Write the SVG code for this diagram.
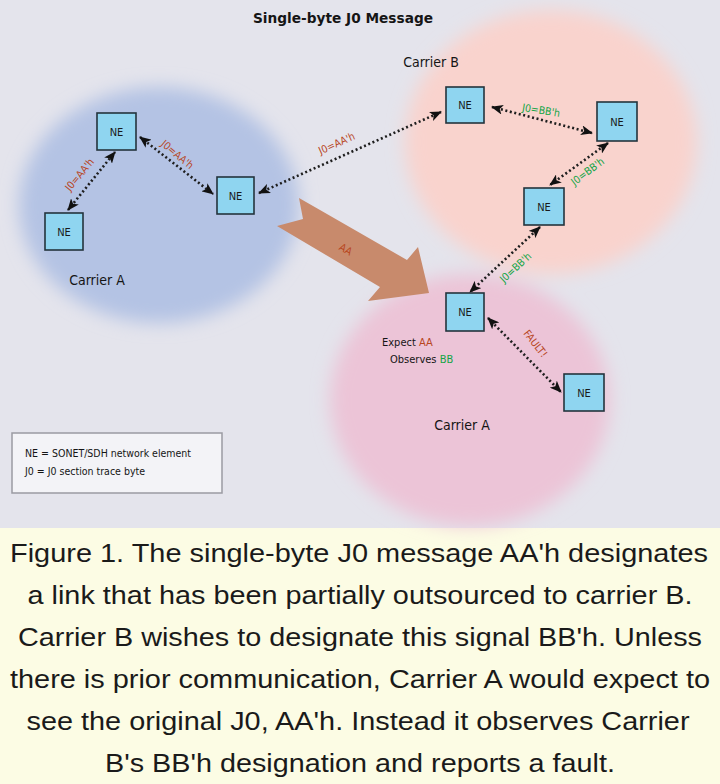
<svg xmlns="http://www.w3.org/2000/svg" width="720" height="784" viewBox="0 0 720 784">
<defs>
<style>
.ne rect{fill:#8fd5f0;stroke:#24343c;stroke-width:1.6}
.ne text{font-family:"DejaVu Sans Condensed","Liberation Sans",sans-serif;font-size:11px;fill:#1a1a1a;text-anchor:middle}
.lnk{fill:none;stroke:#1e1e1e;stroke-width:2.6;stroke-dasharray:2 2.6;marker-start:url(#ah);marker-end:url(#ah)}
.lbl{font-family:"DejaVu Sans Condensed","Liberation Sans",sans-serif;font-size:10.5px;text-anchor:middle}
.red{fill:#b8461e}
.grn{fill:#13a546}
.dk{font-family:"DejaVu Sans Condensed","Liberation Sans",sans-serif;fill:#151515}
.cap{font-family:"Liberation Sans Narrow","Liberation Sans",Arial,sans-serif;font-size:26px;fill:#1a1a1a;text-anchor:middle}
</style>
<marker id="ah" viewBox="0 0 12 10" refX="11" refY="5" markerWidth="12" markerHeight="10" markerUnits="userSpaceOnUse" orient="auto-start-reverse">
<path d="M0,0 L12,5 L0,10 L3,5 z" fill="#111"/>
</marker>
<filter id="blur" x="-20%" y="-20%" width="140%" height="140%">
<feGaussianBlur stdDeviation="9"/>
</filter>
</defs>

<rect x="0" y="0" width="720" height="528" fill="#e4e4ec"/>
<rect x="0" y="528" width="720" height="256" fill="#fcfce4"/>

<g id="regions" filter="url(#blur)">
<ellipse cx="159" cy="205" rx="140" ry="118" fill="#b4c3e4"/>
<ellipse cx="551" cy="142" rx="146" ry="132" fill="#f9d3cd"/>
<ellipse cx="470" cy="400" rx="140" ry="126" fill="#ecc4d7"/>
</g>

<text x="343" y="23" class="dk" font-size="14" font-weight="bold" text-anchor="middle" textLength="180" lengthAdjust="spacingAndGlyphs">Single-byte J0 Message</text>

<g id="big-arrow">
<path d="M299,198 L303,219 L277,226 L380,287 L368,301 L429,293 L418,247 L407,260 L320,210 Z" fill="#c88a6c"/>
<text x="346" y="253" class="lbl red" font-size="11" transform="rotate(30 346 249)">AA</text>
</g>

<g id="connectors">
<path class="lnk" d="M68,210 L115,152"/>
<path class="lnk" d="M140,137 L213,194"/>
<path class="lnk" d="M259,193 L441,112"/>
<path class="lnk" d="M492,107 L592,133"/>
<path class="lnk" d="M608,143 L550,185"/>
<path class="lnk" d="M540,227 L470,292"/>
<path class="lnk" d="M488,318 L561,392"/>
<text class="lbl red" x="80" y="178" transform="rotate(-50 80 175)">J0=AA'h</text>
<text class="lbl red" x="177" y="158" transform="rotate(40 177 155)">J0=AA'h</text>
<text class="lbl red" x="337" y="147" transform="rotate(-24 337 144)">J0=AA'h</text>
<text class="lbl grn" x="541" y="114" transform="rotate(9 541 111)">J0=BB'h</text>
<text class="lbl grn" x="588" y="175" transform="rotate(-37 588 172)">J0=BB'h</text>
<text class="lbl grn" x="516" y="271" transform="rotate(-43 516 268)">J0=BB'h</text>
<text class="lbl red" x="535" y="347" transform="rotate(52 535 344)">FAULT!</text>
</g>

<g id="ne1" class="ne"><rect x="97" y="113" width="39" height="37"/><text x="116.5" y="136">NE</text></g>
<g id="ne2" class="ne"><rect x="45" y="213" width="38" height="37"/><text x="64" y="236">NE</text></g>
<g id="ne3" class="ne"><rect x="217" y="177" width="37" height="37"/><text x="235.5" y="200">NE</text></g>
<g id="ne4" class="ne"><rect x="446" y="87" width="38" height="36"/><text x="465" y="109">NE</text></g>
<g id="ne5" class="ne"><rect x="597" y="102" width="40" height="39"/><text x="617" y="126">NE</text></g>
<g id="ne6" class="ne"><rect x="524" y="188" width="40" height="37"/><text x="544" y="211">NE</text></g>
<g id="ne7" class="ne"><rect x="446" y="293" width="38" height="38"/><text x="465" y="316">NE</text></g>
<g id="ne8" class="ne"><rect x="564" y="374" width="40" height="37"/><text x="584" y="397">NE</text></g>

<g id="region-labels">
<text x="97" y="285" class="dk" font-size="14" text-anchor="middle">Carrier A</text>
<text x="431" y="67" class="dk" font-size="14" text-anchor="middle">Carrier B</text>
<text x="462" y="430" class="dk" font-size="14" text-anchor="middle">Carrier A</text>
<text x="382" y="346" class="dk" font-size="11">Expect <tspan fill="#b8461e">AA</tspan></text>
<text x="390" y="363" class="dk" font-size="11">Observes <tspan fill="#13a546">BB</tspan></text>
</g>

<g id="legend">
<rect x="12" y="433" width="210" height="60" fill="#f3f3f7" stroke="#9a9aa2" stroke-width="1.5"/>
<text x="25" y="457" class="dk" font-size="10.5">NE = SONET/SDH network element</text>
<text x="25" y="475" class="dk" font-size="10.5">J0 = J0 section trace byte</text>
</g>

<g id="caption">
<text class="cap" x="359" y="562" textLength="698" lengthAdjust="spacingAndGlyphs">Figure 1. The single-byte J0 message AA'h designates</text>
<text class="cap" x="360" y="604" textLength="665" lengthAdjust="spacingAndGlyphs">a link that has been partially outsourced to carrier B.</text>
<text class="cap" x="360" y="646" textLength="684" lengthAdjust="spacingAndGlyphs">Carrier B wishes to designate this signal BB'h. Unless</text>
<text class="cap" x="360" y="688" textLength="700" lengthAdjust="spacingAndGlyphs">there is prior communication, Carrier A would expect to</text>
<text class="cap" x="358" y="730" textLength="663" lengthAdjust="spacingAndGlyphs">see the original J0, AA'h. Instead it observes Carrier</text>
<text class="cap" x="360" y="772" textLength="510" lengthAdjust="spacingAndGlyphs">B's BB'h designation and reports a fault.</text>
</g>
</svg>
